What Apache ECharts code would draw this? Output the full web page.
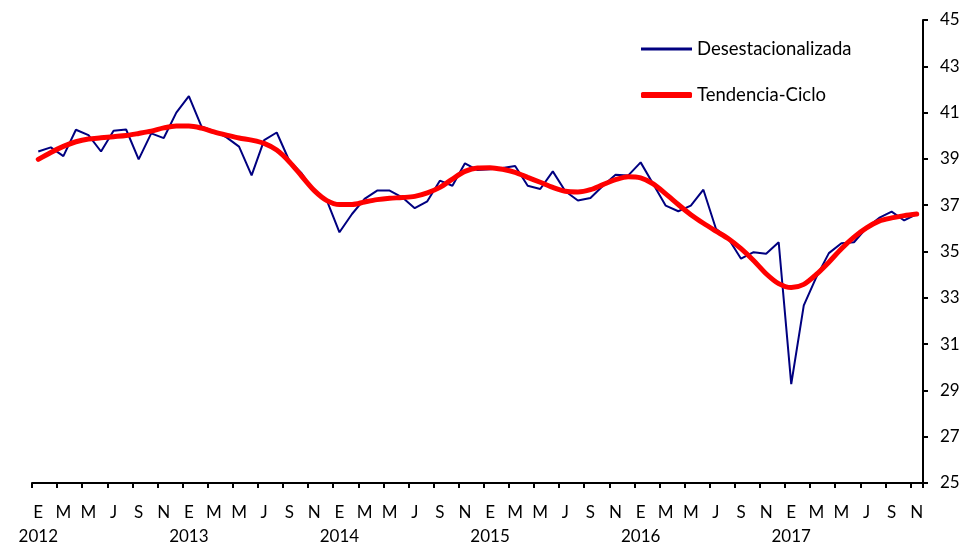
<!DOCTYPE html>
<html>
<head>
<meta charset="utf-8">
<script src="https://cdn.jsdelivr.net/npm/echarts@6/dist/echarts.min.js"></script>
<style>
html,body{margin:0;padding:0;background:#fff;}
#chart{width:967px;height:545px;}
</style>
</head>
<body>
<div id="chart"></div>
<script>
// Month letters (Spanish) and years
var monthLetters = ['E','F','M','A','M','J','J','A','S','O','N','D'];
var years = ['2012','2013','2014','2015','2016','2017'];
var nMonths = 71; // Jan 2012 - Nov 2017

// Seasonally adjusted series (Desestacionalizada)
var desestacionalizada = [
  39.32, 39.50, 39.12, 40.26, 40.03, 39.32, 40.22, 40.27, 38.98, 40.10, 39.90, 41.00,
  41.71, 40.40, 40.20, 39.93, 39.53, 38.29, 39.81, 40.14, 38.92, 38.37, 37.56, 37.20,
  35.83, 36.62, 37.27, 37.63, 37.63, 37.34, 36.87, 37.17, 38.06, 37.84, 38.81, 38.52,
  38.55, 38.61, 38.69, 37.84, 37.70, 38.46, 37.60, 37.20, 37.31, 37.84, 38.32, 38.28,
  38.85, 37.92, 36.98, 36.74, 36.98, 37.67, 35.98, 35.55, 34.69, 34.97, 34.90, 35.40,
  29.27, 32.67, 33.89, 34.93, 35.36, 35.40, 36.02, 36.45, 36.72, 36.34, 36.62
];

// Trend-cycle series (Tendencia-Ciclo)
var tendenciaCiclo = [
  38.98, 39.28, 39.54, 39.74, 39.86, 39.91, 39.96, 40.01, 40.10, 40.20, 40.34, 40.42,
  40.42, 40.33, 40.17, 40.03, 39.90, 39.81, 39.67, 39.38, 38.88, 38.25, 37.63, 37.20,
  37.03, 37.03, 37.14, 37.24, 37.30, 37.33, 37.38, 37.53, 37.77, 38.13, 38.46, 38.61,
  38.62, 38.55, 38.42, 38.20, 37.99, 37.77, 37.60, 37.57, 37.67, 37.89, 38.10, 38.23,
  38.18, 37.92, 37.49, 37.03, 36.59, 36.22, 35.88, 35.55, 35.12, 34.61, 34.04, 33.61,
  33.44, 33.58, 34.01, 34.54, 35.12, 35.62, 36.02, 36.31, 36.45, 36.55, 36.62
];

var categories = [];
for (var i = 0; i < nMonths; i++) {
  categories.push(years[Math.floor(i / 12)] + '-' + (i % 12 + 1));
}

var FONT = 'Lato, "Open Sans", sans-serif';
var chart = echarts.init(document.getElementById('chart'), null, {renderer: 'canvas'});
chart.setOption({
  animation: false,
  backgroundColor: '#ffffff',
  textStyle: {fontFamily: FONT},
  grid: {left: 32, right: 44, top: 20, bottom: 61, containLabel: false},
  legend: [
    {
      orient: 'vertical',
      left: 636,
      top: 32,
      itemWidth: 51,
      itemHeight: 3,
      icon: 'rect',
      textStyle: {fontSize: 18.5, color: '#000', fontFamily: FONT, lineHeight: 24},
      data: ['Desestacionalizada']
    },
    {
      orient: 'vertical',
      left: 636,
      top: 78,
      itemWidth: 51,
      itemHeight: 6,
      icon: 'roundRect',
      textStyle: {fontSize: 18.5, color: '#000', fontFamily: FONT, lineHeight: 24},
      data: ['Tendencia-Ciclo']
    }
  ],
  xAxis: [
    {
      type: 'category',
      data: categories,
      boundaryGap: true,
      axisLine: {lineStyle: {color: '#000', width: 2}},
      axisTick: {show: true, interval: 1, length: 5, lineStyle: {color: '#000', width: 2}},
      axisLabel: {
        interval: 1,
        showMinLabel: true,
        showMaxLabel: true,
        margin: 21,
        color: '#000',
        fontSize: 17,
        fontFamily: FONT,
        formatter: function (value, index) {
          return monthLetters[index % 12];
        }
      },
      splitLine: {show: false}
    },
    {
      type: 'category',
      data: categories,
      position: 'bottom',
      offset: 0,
      boundaryGap: true,
      axisLine: {show: false},
      axisTick: {show: false},
      axisLabel: {
        interval: 11,
        showMinLabel: true,
        margin: 45,
        color: '#000',
        fontSize: 17,
        fontFamily: FONT,
        formatter: function (value, index) {
          return years[Math.floor(index / 12)];
        }
      },
      splitLine: {show: false}
    }
  ],
  yAxis: {
    type: 'value',
    position: 'right',
    min: 25,
    max: 45,
    interval: 2,
    axisLine: {show: true, lineStyle: {color: '#000', width: 2}},
    axisTick: {show: true, length: 5, lineStyle: {color: '#000', width: 2}},
    axisLabel: {color: '#000', fontSize: 17, fontFamily: FONT, margin: 17},
    splitLine: {show: false}
  },
  series: [
    {
      name: 'Desestacionalizada',
      type: 'line',
      data: desestacionalizada,
      symbol: 'none',
      lineStyle: {color: '#000080', width: 2},
      itemStyle: {color: '#000080'},
      z: 2
    },
    {
      name: 'Tendencia-Ciclo',
      type: 'line',
      data: tendenciaCiclo,
      symbol: 'none',
      smooth: 0.3,
      lineStyle: {color: '#ff0000', width: 5, cap: 'round'},
      itemStyle: {color: '#ff0000'},
      z: 3
    }
  ]
});
</script>
</body>
</html>
